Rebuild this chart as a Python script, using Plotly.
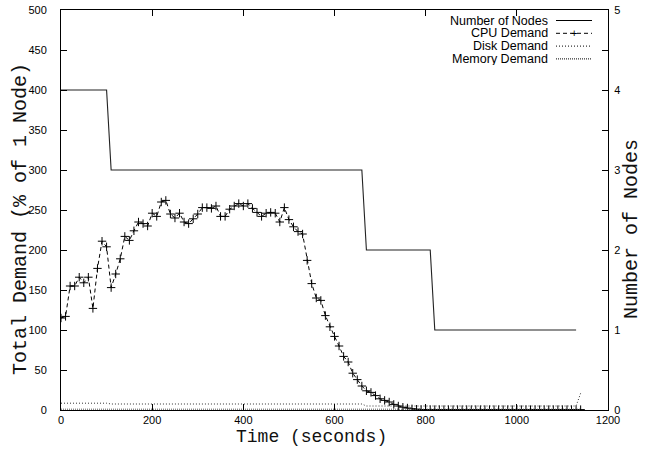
import plotly.graph_objects as go

# ---------------- data ----------------
node_time = [0, 100, 110, 660, 670, 810, 820, 1130]
node_count = [4, 4, 3, 3, 2, 2, 1, 1]

cpu_time = [0, 10, 20, 30, 40, 50, 60, 70, 80, 90, 100, 110, 120, 130, 140, 150,
            160, 170, 180, 190, 200, 210, 220, 230, 240, 250, 260, 270, 280, 290,
            300, 310, 320, 330, 340, 350, 360, 370, 380, 390, 400, 410, 420, 430,
            440, 450, 460, 470, 480, 490, 500, 510, 520, 530, 540, 550, 560, 570,
            580, 590, 600, 610, 620, 630, 640, 650, 660, 670, 680, 690, 700, 710,
            720, 730, 740, 750, 760, 770, 780, 790, 800, 810, 820, 830, 840, 850,
            860, 870, 880, 890, 900, 910, 920, 930, 940, 950, 960, 970, 980, 990,
            1000, 1010, 1020, 1030, 1040, 1050, 1060, 1070, 1080, 1090, 1100, 1110,
            1120, 1130, 1140]
cpu_demand = [115, 117, 155, 155, 166, 159, 166, 127, 177, 211, 204, 153, 170, 189,
              217, 212, 224, 235, 233, 230, 246, 242, 260, 262, 245, 240, 246, 235,
              233, 239, 245, 253, 253, 252, 255, 242, 242, 251, 255, 258, 255, 258,
              252, 247, 242, 246, 247, 246, 235, 253, 238, 229, 223, 220, 187, 158,
              140, 137, 118, 104, 92, 80, 67, 60, 46, 38, 30, 24, 22, 18, 14, 12,
              10, 7, 5, 3.5, 2.5, 1.5, 1, 0.6, 0.5, 0.5, 0.5, 0.5, 0.5, 0.5, 0.5,
              0.5, 0.5, 0.5, 0.5, 0.5, 0.5, 0.5, 0.5, 0.5, 0.5, 0.5, 0.5, 0.5, 0.5,
              0.5, 0.5, 0.5, 0.5, 0.5, 0.5, 0.5, 0.5, 0.5, 0.5, 0.5, 0.5, 0.5, 0.5]

disk_time = [0, 100, 110, 660, 670, 1130, 1140]
disk_demand = [8.5, 8.5, 7.5, 7.5, 5, 5, 21]

mem_time = [0, 1140]
mem_demand = [1, 1]

x_ticks = [0, 200, 400, 600, 800, 1000, 1200]
y_ticks = [0, 50, 100, 150, 200, 250, 300, 350, 400, 450, 500]
y2_ticks = [0, 1, 2, 3, 4, 5]

legend_names = ["Number of Nodes", "CPU Demand", "Disk Demand", "Memory Demand"]
x_title = "Time (seconds)"
y_title = "Total Demand (% of 1 Node)"
y2_title = "Number of Nodes"

# ---------------- figure ----------------
BLACK = "#000000"
SANS = "Liberation Sans, Arial, sans-serif"
MONO = "Liberation Mono, Courier New, monospace"
TICK_FONT = dict(family=SANS, size=11, color=BLACK)

fig = go.Figure()

fig.add_trace(go.Scatter(x=node_time, y=node_count, yaxis="y2", mode="lines",
                         line=dict(color="#222222", width=1.1), name=legend_names[0],
                         showlegend=False))
fig.add_trace(go.Scatter(x=cpu_time, y=cpu_demand, mode="lines+markers",
                         line=dict(color=BLACK, width=1, dash="4px,3px"),
                         marker=dict(symbol="cross-thin", size=6,
                                     line=dict(color=BLACK, width=1)),
                         name=legend_names[1], showlegend=False))
fig.add_trace(go.Scatter(x=disk_time, y=disk_demand, mode="lines",
                         line=dict(color="#333333", width=1, dash="1px,2px"),
                         name=legend_names[2], showlegend=False))
fig.add_trace(go.Scatter(x=mem_time, y=mem_demand, mode="lines",
                         line=dict(color="#555555", width=1, dash="1px,1px"),
                         name=legend_names[3], showlegend=False))

W, H = 646, 455
L, R, T, B = 61, 38, 10, 45
pw, ph = W - L - R, H - T - B


def px_x(px):
    return (px - L) / pw


def px_y(py):
    return (H - B - py) / ph


# manual gnuplot-style legend: text right-aligned, sample on the right
rows = [20.5, 33.3, 46.1, 58.9]
dashes = ["solid", "4px,3px", "1px,2px", "1px,1px"]
for name, ry, d in zip(legend_names, rows, dashes):
    fig.add_annotation(x=px_x(550), y=px_y(ry), xref="paper", yref="paper",
                       text=name, showarrow=False, xanchor="right", yanchor="middle",
                       height=12, font=dict(family=SANS, size=12.5, color=BLACK))
    fig.add_shape(type="line", xref="paper", yref="paper",
                  x0=px_x(556), x1=px_x(592), y0=px_y(ry), y1=px_y(ry),
                  line=dict(color=BLACK, width=1, dash=d))
fig.add_annotation(x=px_x(574), y=px_y(rows[1]), xref="paper", yref="paper",
                   text="+", showarrow=False, xanchor="center", yanchor="middle",
                   font=dict(family=SANS, size=11, color=BLACK))

# axis titles (gnuplot-like Courier placement)
fig.add_annotation(x=px_x(311), y=px_y(437), xref="paper", yref="paper",
                   text=x_title, showarrow=False, xanchor="center", yanchor="middle",
                   font=dict(family=MONO, size=18, color="#111111"))
fig.add_annotation(x=px_x(20), y=px_y(219), xref="paper", yref="paper",
                   text=y_title, showarrow=False, textangle=-90,
                   xanchor="center", yanchor="middle",
                   font=dict(family=MONO, size=20, color="#111111"))
fig.add_annotation(x=px_x(631), y=px_y(229), xref="paper", yref="paper",
                   text=y2_title, showarrow=False, textangle=-90,
                   xanchor="center", yanchor="middle",
                   font=dict(family=MONO, size=20, color="#111111"))

axis_common = dict(showgrid=False, zeroline=False, showline=True, linecolor=BLACK,
                   linewidth=1, ticks="inside", ticklen=6, tickcolor=BLACK,
                   tickfont=TICK_FONT, automargin=False)

fig.update_layout(
    width=W, height=H,
    margin=dict(l=L, r=R, t=T, b=B),
    paper_bgcolor="white", plot_bgcolor="white",
    xaxis=dict(range=[0, 1200], tickvals=x_ticks, mirror="ticks",
               ticklabelstandoff=0, **axis_common),
    yaxis=dict(range=[0, 500], tickvals=y_ticks, mirror="ticks",
               ticklabelstandoff=11, **axis_common),
    yaxis2=dict(range=[0, 5], tickvals=y2_ticks, overlaying="y", side="right",
                ticklabelstandoff=3, **axis_common),
    showlegend=False,
)

fig.write_html("out.html")
